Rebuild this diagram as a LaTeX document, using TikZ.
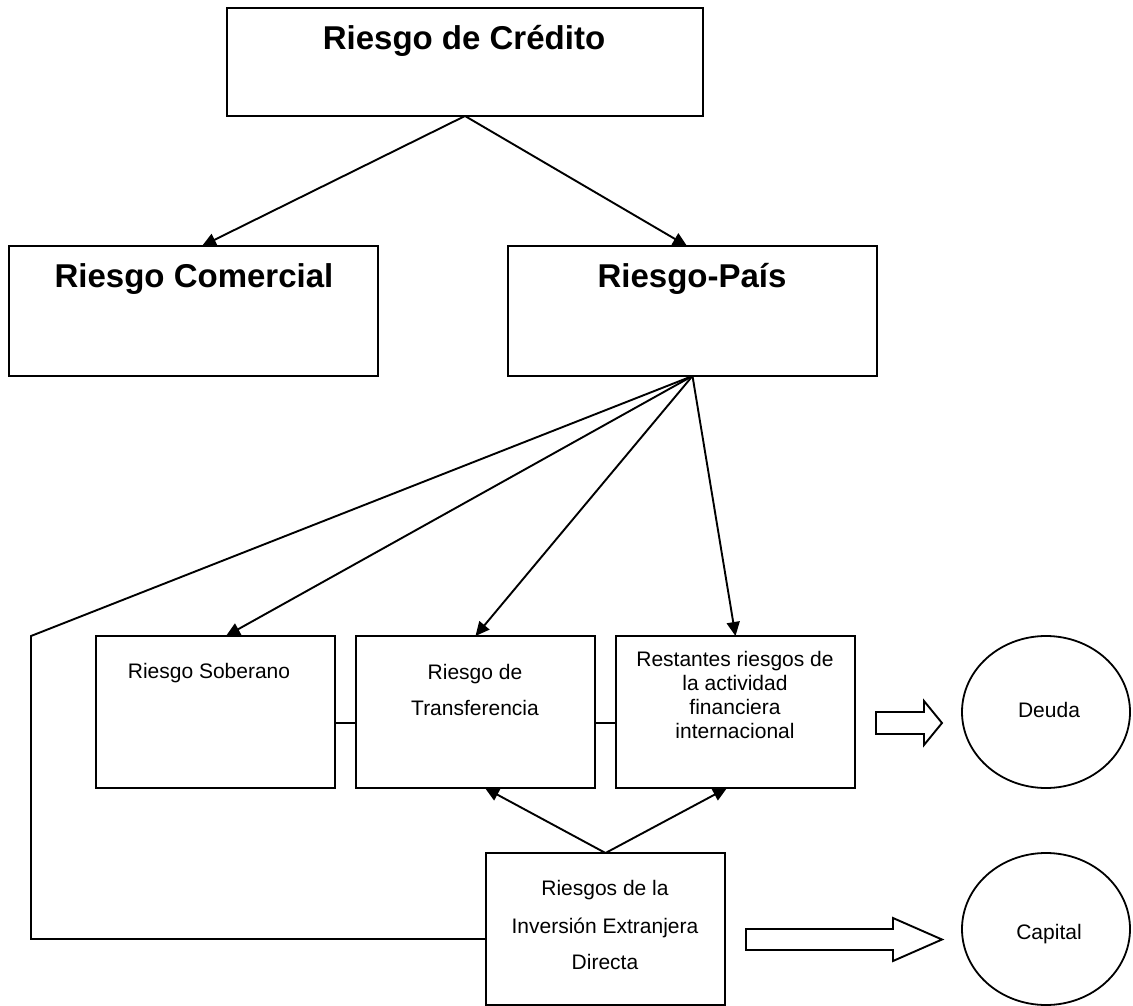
\documentclass[tikz,border=0pt]{standalone}
\usepackage{fontspec}
\setmainfont{Liberation Sans}
\usetikzlibrary{arrows.meta,shapes.geometric}
\begin{document}
\begin{tikzpicture}[x=1pt,y=-1pt,
  box/.style={draw, line width=2pt, rectangle, inner sep=0pt, outer sep=0pt},
  topbox/.style={box, line width=2.6pt},
  ell/.style={draw, line width=1.8pt, ellipse, inner sep=0pt, outer sep=0pt},
  big/.style={font=\fontsize{33}{38}\selectfont\bfseries, anchor=base, inner sep=0pt},
  txt/.style={font=\fontsize{21}{25}\selectfont, anchor=base, inner sep=0pt},
  conn/.style={line width=1.9pt, line join=miter},
  arr/.style={line width=1.9pt, -{Triangle[length=14pt,width=13pt]}},
  blk/.style={draw, line width=1.9pt, line join=miter}]
\useasboundingbox (0,0) rectangle (1133,1006);

% boxes
\node[topbox, minimum width=476pt, minimum height=108pt] (cred) at (465,62) {};
\node[topbox, minimum width=369pt, minimum height=130pt] (com) at (193.5,311) {};
\node[topbox, minimum width=369pt, minimum height=130pt] (pais) at (692.5,311) {};
\node[box, minimum width=239pt, minimum height=152pt] (sob) at (215.5,712) {};
\node[box, minimum width=239pt, minimum height=152pt] (trans) at (475.5,712) {};
\node[box, minimum width=239pt, minimum height=152pt] (rest) at (735.5,712) {};
\node[box, minimum width=239pt, minimum height=152pt] (ied) at (605.5,929) {};
\node[ell, minimum width=168pt, minimum height=152pt] (deuda) at (1046,712) {};
\node[ell, minimum width=168pt, minimum height=152pt] (capital) at (1046,929) {};

% texts
\node[big] (credT) at (464,50) {Riesgo de Crédito};
\node[big] (comT) at (194,287) {Riesgo Comercial};
\node[big] (paisT) at (692,287) {Riesgo-País};
\node[txt] (sobT) at (209,678) {Riesgo Soberano};
\node[txt] (transT1) at (475,679) {Riesgo de};
\node[txt] (transT2) at (475,715) {Transferencia};
\node[txt] (restT1) at (735,666) {Restantes riesgos de};
\node[txt] (restT2) at (735,690) {la actividad};
\node[txt] (restT3) at (735,714) {financiera};
\node[txt] (restT4) at (735,738) {internacional};
\node[txt] (iedT1) at (605,895) {Riesgos de la};
\node[txt] (iedT2) at (605,933) {Inversión Extranjera};
\node[txt] (iedT3) at (605,969) {Directa};
\node[txt] (deudaT) at (1049,717) {Deuda};
\node[txt] (capT) at (1049,939) {Capital};

% arrows
\draw[arr] (cred.south) -- ([xshift=8.5pt]com.north);
\draw[arr] (cred.south) -- ([xshift=-5.5pt]pais.north);
\draw[arr] (pais.south) -- ([xshift=10.5pt]sob.north);
\draw[arr] (pais.south) -- (trans.north);
\draw[arr] (pais.south) -- (rest.north);
\draw[arr] (ied.north) -- ([xshift=9.5pt]trans.south);
\draw[arr] (ied.north) -- ([xshift=-8.5pt]rest.south);

% plain connectors
\coordinate (c1) at (31,636);
\coordinate (c2) at (31,939);
\draw[conn] (pais.south) -- (c1) -- (c2) -- ([yshift=-10pt]ied.west);
\draw[conn] ([yshift=-11pt]sob.east) -- ([yshift=-11pt]trans.west);
\draw[conn] ([yshift=-11pt]trans.east) -- ([yshift=-11pt]rest.west);

% block arrows
\draw[blk] (876,712) -- (924,712) -- (924,701) -- (942,723) -- (924,745) -- (924,734) -- (876,734) -- cycle;
\draw[blk] (746,929) -- (893,929) -- (893,918) -- (942,939.5) -- (893,961) -- (893,950) -- (746,950) -- cycle;
\end{tikzpicture}
\end{document}
